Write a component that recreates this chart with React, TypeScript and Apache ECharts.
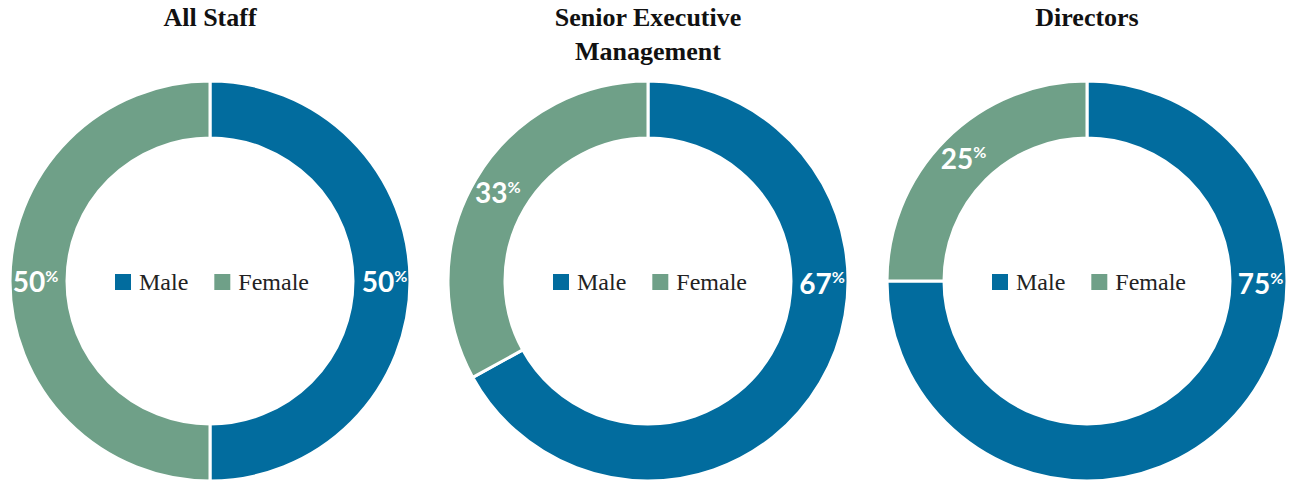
import React, { useEffect, useRef } from "react";
import * as echarts from "echarts";

const categories = ["Male", "Female"];
const groups = ["All Staff", "Senior Executive\nManagement", "Directors"];
const maleValues = [50, 67, 75];
const femaleValues = [50, 33, 25];

const COLORS = ["#026c9e", "#6fa088"];
const CENTERS_X = [210, 648, 1087];
const CENTER_Y = 281;
const R_IN = 143;
const R_OUT = 200;
const R_MID = (R_IN + R_OUT) / 2;

function labelOffsetToRight(value: number, total: number): [number, number] {
  const theta = ((value / 2) / total) * 2 * Math.PI;
  return [R_MID * (1 - Math.sin(theta)), R_MID * Math.cos(theta)];
}

export default function App() {
  const ref = useRef<HTMLDivElement>(null);
  useEffect(() => {
    if (!ref.current) return;
    const chart = echarts.init(ref.current, null, { renderer: "svg" });
    const series = groups.map((g, i) => {
      const total = maleValues[i] + femaleValues[i];
      return {
        type: "pie",
        name: g,
        center: [CENTERS_X[i], CENTER_Y],
        radius: [R_IN, R_OUT],
        startAngle: 90,
        clockwise: true,
        silent: true,
        avoidLabelOverlap: false,
        itemStyle: { borderColor: "#ffffff", borderWidth: 3 },
        label: {
          show: true,
          position: "inside",
          fontSize: 28,
          formatter: (p: any) => `{a|${p.value}}{b|%}`,
          rich: {
            a: { fontFamily: "Lato", fontWeight: "bold", fontSize: 28, color: "#ffffff" },
            b: { fontFamily: "Lato", fontWeight: "bold", fontSize: 16, color: "#ffffff", padding: [0, 0, 12, 0] },
          },
        },
        labelLine: { show: false },
        emphasis: { disabled: true },
        data: [
          {
            name: categories[0],
            value: maleValues[i],
            itemStyle: { color: COLORS[0] },
            label: { offset: labelOffsetToRight(maleValues[i], total) },
          },
          { name: categories[1], value: femaleValues[i], itemStyle: { color: COLORS[1] } },
        ],
      };
    });
    chart.setOption({
      animation: false,
      color: COLORS,
      title: groups.map((g, i) => ({
        text: g,
        left: CENTERS_X[i],
        top: 0,
        padding: 0,
        textAlign: "center",
        textStyle: {
          fontFamily: "Liberation Serif",
          fontWeight: "bold",
          fontSize: 26,
          lineHeight: 34,
          color: "#111111",
        },
      })),
      legend: groups.map((g, i) => ({
        data: categories,
        left: CENTERS_X[i] - 97,
        top: CENTER_Y - 11,
        orient: "horizontal",
        padding: 0,
        itemWidth: 18,
        itemHeight: 18,
        itemGap: 24,
        icon: "rect",
        selectedMode: false,
        textStyle: { fontFamily: "Liberation Serif", fontSize: 24, color: "#222222", padding: [0, 0, 0, 2] },
      })),
      series,
    });
    return () => chart.dispose();
  }, []);
  return (
    <div
      ref={ref}
      style={{ position: "fixed", left: 0, top: 0, width: 1293, height: 481, background: "#ffffff" }}
    />
  );
}
